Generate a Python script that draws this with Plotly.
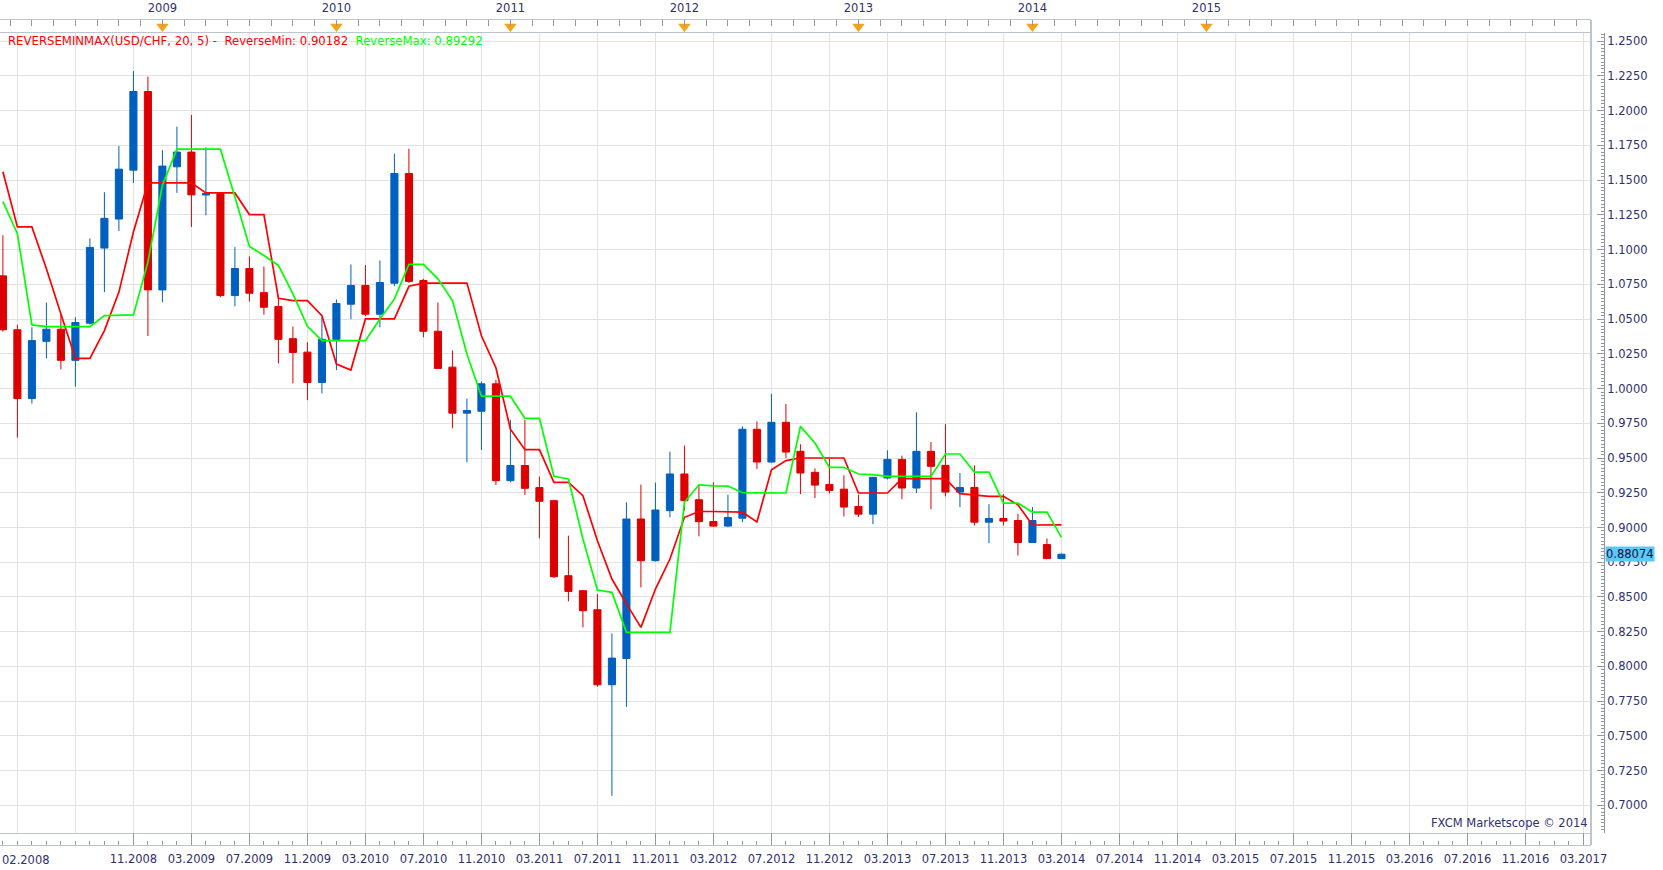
import plotly.graph_objects as go
import pandas as pd

# ---------------- data ----------------
months = [p.strftime('%m.%Y') for p in pd.period_range('2008-02', '2014-03', freq='M')]
axis_months = [p.strftime('%m.%Y') for p in pd.period_range('2008-02', '2017-03', freq='M')]

open_ = [1.0811, 1.0423, 0.9928, 1.0340, 1.0427, 1.0203, 1.0470, 1.1011, 1.1220, 1.1572,
         1.2138, 1.0710, 1.1596, 1.1702, 1.1393, 1.1403, 1.0669, 1.0864, 1.0690, 1.0590,
         1.0359, 1.0262, 1.0044, 1.0354, 1.0607, 1.0742, 1.0535, 1.0758, 1.1548, 1.0778,
         1.0412, 1.0154, 0.9823, 0.9837, 1.0034, 0.9337, 0.9446, 0.9287, 0.9193, 0.8653,
         0.8545, 0.8408, 0.7868, 0.8057, 0.9061, 0.8761, 0.9121, 0.9385, 0.9200, 0.9043,
         0.9010, 0.9067, 0.9707, 0.9471, 0.9757, 0.9548, 0.9397, 0.9310, 0.9276, 0.9151,
         0.9096, 0.9356, 0.9490, 0.9284, 0.9548, 0.9447, 0.9255, 0.9288, 0.9038, 0.9065,
         0.9050, 0.8892, 0.8877, 0.8776]
high = [1.1103, 1.0459, 1.0441, 1.0619, 1.0532, 1.0513, 1.1081, 1.1413, 1.1745, 1.2285,
        1.2245, 1.1716, 1.1885, 1.1969, 1.1735, 1.1408, 1.1018, 1.0951, 1.0879, 1.0657,
        1.0445, 1.0333, 1.0513, 1.0641, 1.0893, 1.0888, 1.0922, 1.1690, 1.1726, 1.0789,
        1.0619, 1.0274, 0.9928, 1.0051, 1.0063, 0.9775, 0.9775, 0.9366, 0.9200, 0.8941,
        0.8548, 0.8521, 0.8238, 0.9181, 0.9309, 0.9323, 0.9546, 0.9590, 0.9297, 0.9325,
        0.9236, 0.9728, 0.9764, 0.9962, 0.9889, 0.9599, 0.9425, 0.9495, 0.9375, 0.9236,
        0.9365, 0.9555, 0.9517, 0.9829, 0.9615, 0.9743, 0.9392, 0.9447, 0.9168, 0.9240,
        0.9099, 0.9147, 0.8921, 0.8812]
low = [1.0410, 0.9647, 0.9892, 1.0217, 1.0138, 1.0013, 1.0460, 1.0694, 1.1134, 1.1480,
       1.0378, 1.0621, 1.1408, 1.1163, 1.1247, 1.0657, 1.0592, 1.0626, 1.0532, 1.0181,
       1.0037, 0.9916, 0.9965, 1.0133, 1.0499, 1.0520, 1.0441, 1.0737, 1.0760, 1.0369,
       1.0140, 0.9714, 0.9470, 0.9558, 0.9306, 0.9325, 0.9234, 0.8922, 0.8636, 0.8468,
       0.8281, 0.7853, 0.7068, 0.7709, 0.8569, 0.8755, 0.9073, 0.9121, 0.8936, 0.9005,
       0.9002, 0.9038, 0.9421, 0.9465, 0.9500, 0.9240, 0.9212, 0.9245, 0.9079, 0.9075,
       0.9024, 0.9346, 0.9204, 0.9248, 0.9132, 0.9224, 0.9147, 0.9014, 0.8887, 0.9014,
       0.8798, 0.8888, 0.8772, 0.8774]
close = [1.0423, 0.9928, 1.0345, 1.0427, 1.0203, 1.0475, 1.1016, 1.1225, 1.1579, 1.2138,
         1.0710, 1.1601, 1.1702, 1.1394, 1.1403, 1.0669, 1.0864, 1.0686, 1.0585, 1.0354,
         1.0260, 1.0044, 1.0354, 1.0612, 1.0742, 1.0535, 1.0763, 1.1548, 1.0771, 1.0412,
         1.0145, 0.9823, 0.9842, 1.0034, 0.9337, 0.9446, 0.9282, 0.9189, 0.8646, 0.8540,
         0.8401, 0.7868, 0.8060, 0.9061, 0.8761, 0.9126, 0.9385, 0.9193, 0.9042, 0.9010,
         0.9072, 0.9707, 0.9471, 0.9757, 0.9543, 0.9392, 0.9305, 0.9267, 0.9147, 0.9096,
         0.9361, 0.9490, 0.9284, 0.9548, 0.9440, 0.9255, 0.9288, 0.9038, 0.9065, 0.9046,
         0.8892, 0.9050, 0.8776, 0.88074]
reverse_min = [1.1560, 1.1163, 1.1163, 1.0862, 1.0537, 1.0217, 1.0217, 1.0417, 1.0694, 1.1127,
               1.1480, 1.1480, 1.1480, 1.1480, 1.1408, 1.1408, 1.1408, 1.1252, 1.1252, 1.0650,
               1.0633, 1.0633, 1.0525, 1.0176, 1.0133, 1.0501, 1.0501, 1.0501, 1.0736, 1.0759,
               1.0759, 1.0759, 1.0759, 1.0380, 1.0150, 0.9707, 0.9560, 0.9560, 0.9325, 0.9325,
               0.9229, 0.8905, 0.8629, 0.8450, 0.8281, 0.8557, 0.8773, 0.9073, 0.9115, 0.9115,
               0.9115, 0.9110, 0.9040, 0.9416, 0.9481, 0.9500, 0.9500, 0.9500, 0.9500, 0.9248,
               0.9248, 0.9248, 0.9351, 0.9351, 0.9351, 0.9351, 0.9243, 0.9231, 0.9224, 0.9224,
               0.9163, 0.9018, 0.9018, 0.90182]
reverse_max = [1.1346, 1.1115, 1.0458, 1.0446, 1.0446, 1.0446, 1.0446, 1.0525, 1.0525, 1.0530,
               1.0910, 1.1463, 1.1723, 1.1723, 1.1723, 1.1723, 1.1379, 1.1023, 1.0958, 1.0886,
               1.0681, 1.0448, 1.0345, 1.0345, 1.0345, 1.0345, 1.0501, 1.0645, 1.0893, 1.0893,
               1.0790, 1.0633, 1.0248, 0.9945, 0.9945, 0.9945, 0.9785, 0.9785, 0.9369, 0.9349,
               0.8917, 0.8550, 0.8533, 0.8245, 0.8245, 0.8245, 0.8245, 0.9181, 0.9307, 0.9300,
               0.9298, 0.9250, 0.9248, 0.9248, 0.9248, 0.9728, 0.9608, 0.9433, 0.9433, 0.9385,
               0.9380, 0.9368, 0.9368, 0.9368, 0.9368, 0.9529, 0.9529, 0.9399, 0.9399, 0.9175,
               0.9175, 0.9111, 0.9111, 0.89292]

bottom_labels = ['11.2008', '03.2009', '07.2009', '11.2009', '03.2010', '07.2010', '11.2010',
                 '03.2011', '07.2011', '11.2011', '03.2012', '07.2012', '11.2012', '03.2013',
                 '07.2013', '11.2013', '03.2014', '07.2014', '11.2014', '03.2015', '07.2015',
                 '11.2015', '03.2016', '07.2016', '11.2016', '03.2017']
grid_months = ['03.2008', '07.2008'] + bottom_labels
year_labels = ['2009', '2010', '2011', '2012', '2013', '2014', '2015']
price_ticks = [0.7000, 0.7250, 0.7500, 0.7750, 0.8000, 0.8250, 0.8500, 0.8750, 0.9000, 0.9250,
               0.9500, 0.9750, 1.0000, 1.0250, 1.0500, 1.0750, 1.1000, 1.1250, 1.1500, 1.1750,
               1.2000, 1.2250, 1.2500]

# ---------------- styling ----------------
BLUE = '#0060C0'
RED = '#DD0000'
LINE_RED = '#FF0000'
LINE_GREEN = '#00FF00'
ORANGE = '#F7A21B'
NAVY = '#303070'
GRID = '#E2E2E2'
FRAME = '#BCC4D0'
AXC = '#9098A8'
FONT = 'DejaVu Sans'
FS = 11.5

x = [axis_months.index(m) for m in months]
grid_pos = [axis_months.index(m) for m in grid_months]
label_pos = [axis_months.index(m) for m in bottom_labels]
year_pos = [axis_months.index('01.' + y) for y in year_labels]

W, H = 1663, 870
ML, MR, MT, MB = 0, 59, 20, 25
PW, PH = W - ML - MR, H - MT - MB
PLOT_RIGHT = 1591
PLOT_TOP, PLOT_BOTTOM = 33, 833
XD = (PLOT_RIGHT - ML) / PW
YD0 = (H - MB - PLOT_BOTTOM) / PH
YD1 = (H - MB - PLOT_TOP) / PH
XR = [-0.2, 109.52]
YR = [0.6801, 1.2559]

fig = go.Figure()
fig.add_trace(go.Candlestick(
    x=x, open=open_, high=high, low=low, close=close,
    increasing=dict(line=dict(color=BLUE, width=1), fillcolor=BLUE),
    decreasing=dict(line=dict(color=RED, width=1), fillcolor=RED),
    whiskerwidth=0, hoverinfo='skip', xaxis='x', yaxis='y'))
fig.add_trace(go.Scatter(x=x, y=reverse_min, mode='lines',
                         line=dict(color=LINE_RED, width=1.7), hoverinfo='skip'))
fig.add_trace(go.Scatter(x=x, y=reverse_max, mode='lines',
                         line=dict(color=LINE_GREEN, width=1.7), hoverinfo='skip'))
fig.add_trace(go.Scatter(x=year_pos, y=[0.5] * len(year_pos), mode='markers',
                         marker=dict(symbol='triangle-down', size=11, color=ORANGE),
                         xaxis='x2', yaxis='y2', hoverinfo='skip'))
fig.add_trace(go.Scatter(x=x, y=close, mode='markers', marker=dict(opacity=0),
                         xaxis='x3', yaxis='y', hoverinfo='skip'))

legend_text = ("<span style='color:%s'>REVERSEMINMAX(USD/CHF, 20, 5) - &nbsp;ReverseMin: %.5f</span>"
               "&nbsp; <span style='color:%s'>ReverseMax: %.5f</span>"
               % (LINE_RED, reverse_min[-1], LINE_GREEN, reverse_max[-1]))

fig.update_layout(
    width=W, height=H, autosize=False,
    margin=dict(l=ML, r=MR, t=MT, b=MB, pad=0),
    paper_bgcolor='white', plot_bgcolor='white',
    showlegend=False,
    font=dict(family=FONT, size=FS, color=NAVY),
    xaxis=dict(domain=[0, XD], range=XR, anchor='y', tickmode='array', tickvals=grid_pos,
               showticklabels=False, ticks='', showgrid=True, gridcolor=GRID, gridwidth=1,
               showline=True, linecolor=FRAME, linewidth=1, mirror=True, zeroline=False,
               rangeslider=dict(visible=False), fixedrange=True),
    yaxis=dict(domain=[YD0, YD1], range=YR, anchor='free', position=1, side='right',
               tickmode='array', tickvals=price_ticks,
               ticktext=['%.4f' % v for v in price_ticks],
               ticks='inside', ticklen=7, tickcolor=AXC, showline=True, linecolor=AXC,
               showgrid=True, gridcolor=GRID, gridwidth=1, zeroline=False,
               tickfont=dict(family=FONT, size=FS, color=NAVY),
               minor=dict(tickmode='linear', tick0=0.7, dtick=0.0025, ticks='inside',
                          ticklen=3, tickcolor=AXC, showgrid=False),
               fixedrange=True),
    xaxis2=dict(domain=[0, XD], range=XR, anchor='y2', side='top', tickmode='array',
                tickvals=year_pos, ticktext=year_labels, ticks='', showline=True,
                linecolor=FRAME, showgrid=False, zeroline=False, ticklabelstandoff=2,
                tickfont=dict(family=FONT, size=FS, color=NAVY),
                minor=dict(tickmode='linear', tick0=year_pos[0], dtick=1.5, ticks='inside',
                           ticklen=6, tickcolor=AXC, showgrid=False),
                fixedrange=True),
    yaxis2=dict(domain=[YD1, 1], range=[0, 1], anchor='x2', visible=False, fixedrange=True),
    xaxis3=dict(overlaying='x', anchor='free', position=0, side='bottom', range=XR,
                tickmode='array', tickvals=label_pos, ticktext=bottom_labels,
                ticks='inside', ticklen=12, tickcolor=AXC, showline=True, linecolor=FRAME,
                showgrid=False, zeroline=False, ticklabelstandoff=3,
                tickfont=dict(family=FONT, size=FS, color=NAVY),
                minor=dict(tickmode='linear', tick0=0, dtick=1, ticks='inside',
                           ticklen=4, tickcolor=AXC, showgrid=False),
                fixedrange=True),
    shapes=[dict(type='line', xref='x domain', yref='paper', x0=1, x1=1, y0=0, y1=1,
                 line=dict(color=FRAME, width=2))],
    annotations=[
        dict(text=legend_text, xref='x domain', yref='y domain', x=0, y=1,
             xanchor='left', yanchor='top', xshift=6, yshift=1, showarrow=False,
             font=dict(family=FONT, size=11.7)),
        dict(text='FXCM Marketscope © 2014', xref='x domain', yref='y domain', x=1, y=0,
             xanchor='right', yanchor='bottom', xshift=-1, yshift=1, showarrow=False,
             font=dict(family=FONT, size=FS, color=NAVY)),
        dict(text='%.5f' % close[-1], xref='paper', yref='y', x=1, y=close[-1],
             xanchor='left', yanchor='middle', xshift=1, showarrow=False,
             bgcolor='#5CC8F8', borderpad=0,
             font=dict(family=FONT, size=FS, color='#101040')),
        dict(text=months[0], xref='paper', yref='paper', x=0, y=0,
             xanchor='left', yanchor='top', yshift=-6, showarrow=False,
             font=dict(family=FONT, size=FS, color=NAVY)),
    ],
)

fig.write_html('out.html')
